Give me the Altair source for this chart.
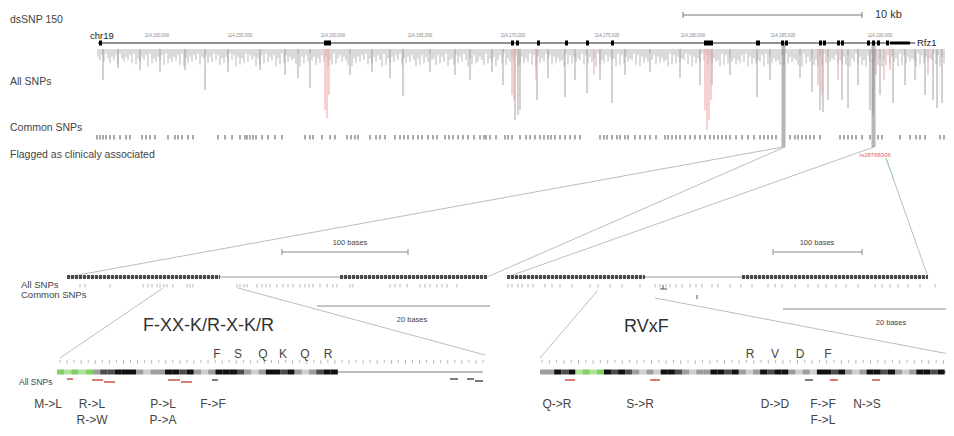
import altair as alt
import pandas as pd

# ---------------- figure frame (figure pixel coordinates) ----------------
W, H = 938, 420
X0, Y0 = 8, 8
xs = alt.Scale(domain=[X0, X0 + W], nice=False, zero=False)
ys = alt.Scale(domain=[Y0, Y0 + H], nice=False, zero=False, reverse=True)
FONT = "Liberation Sans"

# ---------------- data ----------------
# top overview track
exons = [(99, 102), (324, 331), (511, 514), (516, 519), (537, 540), (565, 568), (586, 589),
         (611, 614), (704, 713), (756, 760), (781, 784), (785, 788), (819, 822), (823, 826),
         (837, 840), (841, 844), (867, 870), (872, 875), (877, 880), (886, 889)]
coord_labels = ["114,150,000", "114,155,000", "114,160,000", "114,165,000", "114,170,000",
                "114,175,000", "114,180,000", "114,185,000", "114,190,000"]
coord_pos = [157, 240, 333, 420, 513, 607, 693, 783, 880]

# dense SNP hatch (one digit per SNP column = relative length)
hatch = ("35261473528146352718463529174635281746352819473625183"
         "42736152847361529384716253948271635294817263548193726"
         "15384726395817426358194736251847362591847362518473625"
         "94827361548273619548273615948276358174639527184635298"
         "37461829374615283746591827364518273649185726354918273"
         "64518293746152837465918273645182937461528374659182736"
         "48572619384756291837465829173645829173648592817364528"
         "57382946173859261738495827364918273645918273645182937")
long_gray = [(103, 80), (118, 68), (140, 70), (160, 72), (185, 70), (205, 90), (228, 72), (260, 70),
             (285, 75), (298, 78), (310, 88), (350, 75), (372, 72), (390, 78), (403, 96), (430, 72),
             (455, 75), (470, 80), (492, 72), (503, 85), (515, 120), (518, 115), (520, 110), (537, 100),
             (548, 78), (565, 97), (575, 80), (587, 93), (600, 80), (612, 103), (625, 75), (650, 72),
             (680, 78), (700, 85), (712, 85), (730, 75), (757, 97), (770, 80), (800, 78), (812, 92),
             (820, 110), (823, 112), (828, 100), (842, 100), (848, 108), (858, 85), (870, 110),
             (873, 115), (880, 95), (893, 103), (905, 85), (915, 80), (925, 95), (933, 100),
             (937, 108), (942, 103)]
long_pink = [(325, 110), (327, 118), (329, 95), (512, 95), (514, 100), (536, 80), (594, 75),
             (705, 110), (707, 130), (709, 120), (711, 100), (818, 85), (822, 95), (838, 80),
             (876, 75), (884, 80), (890, 70), (928, 75)]
common_snps = [97, 100, 103, 106, 110, 114, 120, 126, 130, 142, 146, 150, 155, 168, 175, 178, 182,
               188, 193, 218, 225, 232, 240, 245, 247, 250, 253, 256, 262, 268, 275, 282, 305, 310,
               313, 322, 330, 335, 347, 351, 355, 358, 370, 376, 380, 385, 395, 400, 404, 408, 413,
               418, 422, 428, 433, 437, 445, 449, 453, 458, 463, 468, 474, 480, 484, 486, 490, 496,
               505, 508, 512, 520, 526, 530, 535, 540, 544, 548, 551, 555, 560, 565, 570, 575, 580,
               600, 604, 607, 612, 617, 620, 625, 628, 635, 640, 645, 650, 656, 665, 668, 672, 676,
               680, 685, 690, 695, 700, 705, 710, 714, 718, 722, 726, 730, 736, 742, 748, 754, 760,
               764, 768, 772, 776, 790, 795, 798, 802, 806, 810, 814, 820, 840, 844, 848, 852, 856,
               862, 870, 878, 882, 900, 910, 916, 920, 925, 940, 944]

# middle (100 bases) tracks
mid_bands = [(67, 220), (340, 487), (507, 645), (742, 928)]
mid_snps = [80, 85, 110, 143, 148, 152, 157, 160, 164, 167, 173, 187, 190, 193, 237, 240, 244, 247,
            257, 262, 266, 270, 277, 283, 288, 293, 300, 305, 309, 313, 320, 327, 333, 337, 350,
            353, 390, 395, 400, 407, 420, 425, 430, 437, 442, 447, 457,
            508, 512, 518, 522, 528, 533, 545, 552, 560, 572, 590, 598, 610, 622, 640, 655, 660,
            666, 670, 676, 682, 690, 696, 702, 712, 718, 730, 741, 752, 768, 775, 782, 795, 808,
            818, 826, 836, 846, 858, 875, 882, 890, 898, 908, 920, 935]

# bottom detail: sequence shades (G green, g light green, l light, m mid, d dark, k black)
seq_left = list("GgGgGmddkkkmlmmkkdkmlmkkkdmlmkkdkmlmdkk")
seq_right = list("mmkdkgGgGkdkdmlmlkkdmlmmkkdkmlmkdkkmlmlkkdkmlmkkdkmlmkkdk")
aa_left = [("F", 217), ("S", 238), ("Q", 263), ("K", 283), ("Q", 305), ("R", 328)]
aa_right = [("R", 750), ("V", 775), ("D", 800), ("F", 828)]
mut_labels = [("M->L", 48, 404), ("R->L", 92, 404), ("R->W", 92, 420), ("P->L", 163, 404),
              ("P->A", 163, 420), ("F->F", 213, 404),
              ("Q->R", 557, 404), ("S->R", 640, 404), ("D->D", 775, 404), ("F->F", 823, 404),
              ("N->S", 867, 404), ("F->L", 823, 420)]
marks_red = [(67, 73, 379), (92, 103, 380), (104, 115, 382), (168, 180, 380), (181, 192, 382),
             (565, 575, 380), (650, 660, 380), (830, 838, 380), (872, 880, 380)]
marks_dark = [(212, 218, 380), (450, 458, 379), (467, 474, 379), (475, 483, 381), (805, 813, 380)]


# ---------------- helpers ----------------
def X(f="x"):
    return alt.X(f"{f}:Q", scale=xs, axis=None)


def Y(f="y"):
    return alt.Y(f"{f}:Q", scale=ys, axis=None)


def segs(rows, color, width=1.0, opacity=1.0, dash=None):
    df = pd.DataFrame(rows, columns=["x", "y", "x2", "y2"])
    kw = dict(color=color, strokeWidth=width, opacity=opacity)
    if dash:
        kw["strokeDash"] = dash
    return alt.Chart(df).mark_rule(**kw).encode(x=X("x"), y=Y("y"), x2="x2:Q", y2="y2:Q")


def rects(rows, color, opacity=1.0):
    df = pd.DataFrame(rows, columns=["x", "y", "x2", "y2"])
    return alt.Chart(df).mark_rect(color=color, opacity=opacity).encode(
        x=X("x"), y=Y("y"), x2="x2:Q", y2="y2:Q")


def texts(rows, size, color="#333333", align="left", weight="normal"):
    df = pd.DataFrame(rows, columns=["t", "x", "y"])
    return alt.Chart(df).mark_text(align=align, baseline="middle", fontSize=size, color=color,
                                   font=FONT, fontWeight=weight).encode(x=X(), y=Y(), text="t:N")


layers = []

# ---------- connectors ----------
layers.append(segs([(783, 147, 67, 277), (785, 147, 487, 277), (874, 147, 507, 277),
                    (886, 158, 928, 277),
                    (163, 288, 60, 358), (238, 288, 485, 355),
                    (598, 290, 540, 358), (655, 298, 954, 355)], "#bdbdbd", 1))
layers.append(segs([(886, 158, 894, 180)], "#9fd39f", 1))

# ---------- top track ----------
hx = []
for i, ch in enumerate(hatch):
    x = 98 + 2 * i
    if x > 944:
        break
    hx.append((x, 49, x, 49 + 3 + 1.6 * int(ch)))
layers.append(segs(hx, "#9a9a9a", 0.9, 0.8))
layers.append(segs([(x, 49, x, y) for x, y in long_gray], "#9a9a9a", 0.9))
layers.append(segs([(x, 49, x, y) for x, y in long_pink], "#eeaaaa", 1.1))
layers.append(rects([(781.5, 43, 785.5, 147), (871.5, 43, 875.5, 147)], "#8f8f8f", 0.65))
layers.append(segs([(98, 43, 915, 43)], "#222222", 1))
layers.append(rects([(a, 40.5, b, 45.5) for a, b in exons], "#000000"))
layers.append(rects([(890, 41.5, 910, 44.5)], "#000000"))
layers.append(segs([(x, 135, x, 139.5) for x in common_snps], "#555555", 1))

# scale bar 10 kb
layers.append(segs([(683, 15, 862, 15)], "#777777", 1))
layers.append(segs([(683, 12, 683, 18), (862, 12, 862, 18)], "#777777", 1))

# ---------- middle tracks ----------
layers.append(segs([(67, 277, 487, 277), (507, 277, 928, 277)], "#999999", 1))
layers.append(segs([(a, 277, b, 277) for a, b in mid_bands], "#4a4a4a", 4, 1, [3, 1]))
layers.append(segs([(x, 284, x, 287.5) for x in mid_snps], "#b5b5b5", 1))
layers.append(segs([(663, 285, 663, 289), (660, 289, 667, 289), (697, 295, 697, 299)],
                   "#555555", 1))
layers.append(segs([(282, 252, 408, 252), (773, 252, 862, 252),
                    (317, 306, 490, 306), (783, 309, 954, 309)], "#8a8a8a", 1))
layers.append(segs([(282, 249, 282, 255), (408, 249, 408, 255), (773, 249, 773, 255),
                    (862, 249, 862, 255)], "#8a8a8a", 1))

# ---------- bottom detail tracks ----------
shade_scale = alt.Scale(domain=["G", "g", "l", "m", "d", "k"],
                        range=["#7fd163", "#b1e29b", "#cfcfcf", "#9d9d9d", "#4d4d4d", "#111111"])
cw_l, cw_r = 7.2, 7.1
seq_rows = []
for i, s in enumerate(seq_left):
    seq_rows.append((57 + i * cw_l, 57 + (i + 1) * cw_l, s))
for i, s in enumerate(seq_right):
    seq_rows.append((540 + i * cw_r, 540 + (i + 1) * cw_r, s))
seq_df = pd.DataFrame(seq_rows, columns=["x", "x2", "s"])
seq_df["y"], seq_df["y2"] = 369.5, 374.5
layers.append(segs([(57, 372, 483, 372), (540, 372, 954, 372)], "#bdbdbd", 2))
layers.append(alt.Chart(seq_df).mark_rect().encode(
    x=X("x"), x2="x2:Q", y=Y("y"), y2="y2:Q",
    color=alt.Color("s:N", scale=shade_scale, legend=None)))

ruler = []
for i in range(61):
    x = 60 + i * 7.05
    ruler.append((x, 360, x, 364 if i % 2 else 363))
for i in range(57):
    x = 542 + i * 7.3
    if x > 953:
        break
    ruler.append((x, 360, x, 364 if i % 2 else 363))
layers.append(segs(ruler, "#a8a8a8", 0.8))
layers.append(segs([(a, y, b, y) for a, b, y in marks_red], "#c0392b", 1.3))
layers.append(segs([(a, y, b, y) for a, b, y in marks_dark], "#333333", 1.3))

# ---------- texts ----------
layers.append(texts([("dsSNP 150", 10, 20), ("All SNPs", 10, 82), ("Common SNPs", 10, 128),
                     ("Flagged as clinicaly associated", 10, 155)], 10.5, "#444444"))
layers.append(texts([("chr19", 90, 36), ("Rfz1", 917, 43)], 9.5, "#222222"))
layers.append(texts([("10 kb", 875, 15)], 11, "#333333"))
layers.append(texts(list(zip(coord_labels, coord_pos, [36] * len(coord_pos))), 4.5,
                    "#888888", "center"))
layers.append(texts([("rs28768306", 875, 155)], 6, "#e06060", "center"))
layers.append(texts([("100 bases", 350, 243), ("100 bases", 817, 243),
                     ("20 bases", 412, 320), ("20 bases", 891, 323)], 7.5, "#444444", "center"))
layers.append(texts([("All SNPs", 21, 285), ("Common SNPs", 21, 295)], 9.5, "#444444"))
layers.append(texts([("All SNPs", 19, 382)], 8.5, "#444444"))
layers.append(texts([("F-XX-K/R-X-K/R", 143, 326), ("RVxF", 624, 327)], 18, "#333333"))
layers.append(texts([(a, x, 354) for a, x in aa_left + aa_right], 12, "#444444", "center"))
layers.append(texts(mut_labels, 12, "#444444", "center"))

chart = alt.layer(*layers).properties(
    width=W, height=H, padding=0, autosize=alt.AutoSizeParams(type="none")
).configure_view(stroke=None)

chart.save("out.html", embed_options={"renderer": "svg", "actions": False})
